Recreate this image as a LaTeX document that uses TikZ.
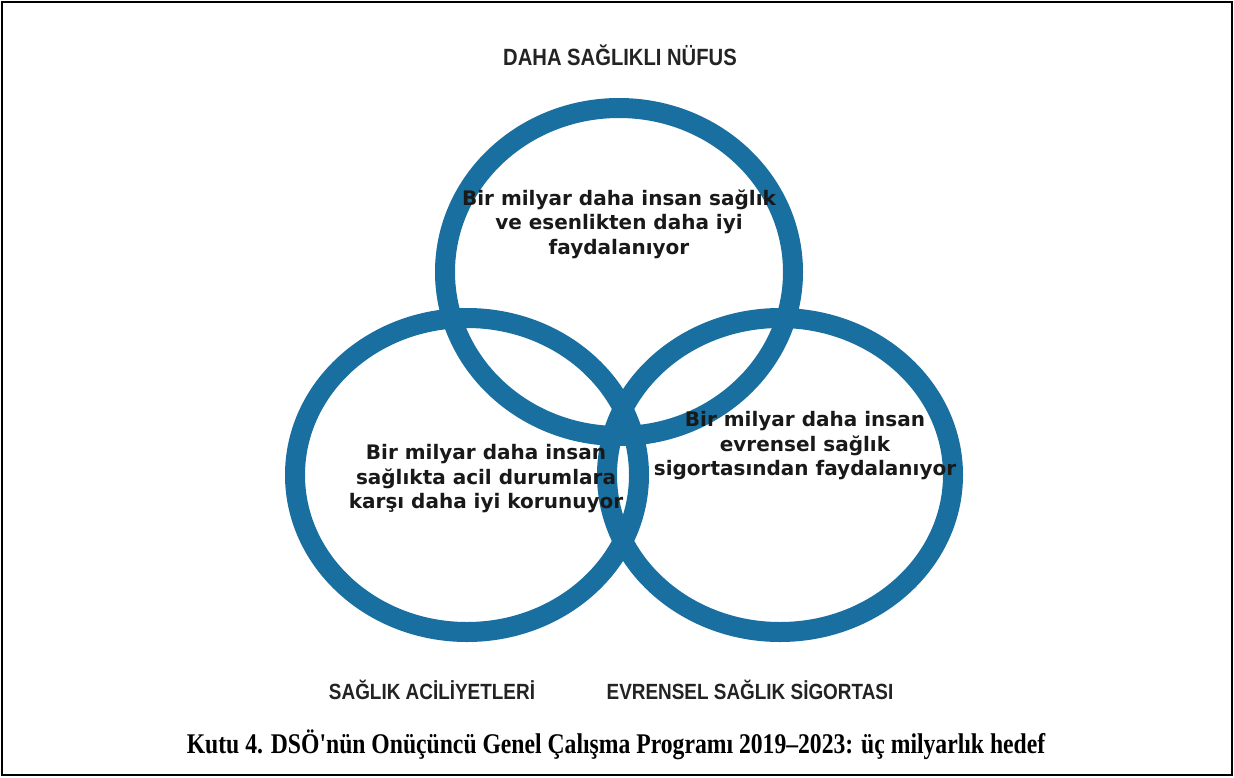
\documentclass[tikz,border=0pt]{standalone}
\usepackage{fontspec}
\setmainfont{Liberation Serif}
\newfontfamily\innerfont{DejaVu Sans}
\newfontfamily\labelfont[FakeStretch=0.86]{Liberation Sans}
\newfontfamily\capfont[FakeStretch=0.83]{Liberation Serif}
\definecolor{ringblue}{RGB}{24,111,160}
\definecolor{labelgray}{RGB}{35,35,35}
\tikzset{
  ring/.style={draw=ringblue, line width=20pt},
  innertxt/.style={align=center, inner sep=0pt, font=\innerfont\bfseries\fontsize{20}{24.5}\selectfont, text=black!90},
  ringlabel/.style={inner sep=0pt, font=\labelfont\bfseries\fontsize{22}{26}\selectfont, text=labelgray},
  captiontxt/.style={inner sep=0pt, font=\capfont\bfseries\fontsize{28.5}{32}\selectfont}
}
\begin{document}
\begin{tikzpicture}[x=1pt,y=-1pt]
\useasboundingbox (0,0) rectangle (1234,777);
\fill[white] (0,0) rectangle (1234,777);
\draw[line width=2pt] (2,2) rectangle (1232,775);
% rings
\draw[ring] (619,272) ellipse [x radius=174, y radius=164];
\draw[ring] (467,475) ellipse [x radius=172, y radius=157];
\draw[ring] (780,475) ellipse [x radius=173, y radius=157];
% texts
\node[ringlabel, font=\labelfont\bfseries\fontsize{23.5}{27}\selectfont] (lhealthy) at (620,55) {DAHA SAĞLIKLI NÜFUS};
\node[innertxt] (ttop) at (619,224) {Bir milyar daha insan sağlık\\ve esenlikten daha iyi\\faydalanıyor};
\node[innertxt] (tleft) at (486,479) {Bir milyar daha insan\\sağlıkta acil durumlara\\karşı daha iyi korunuyor};
\node[innertxt] (tright) at (805,446) {Bir milyar daha insan\\evrensel sağlık\\sigortasından faydalanıyor};
\node[ringlabel] (lemerg) at (432,690) {SAĞLIK ACİLİYETLERİ};
\node[ringlabel] (lcover) at (750,690) {EVRENSEL SAĞLIK SİGORTASI};
\node[captiontxt] (caption) at (616,745) {Kutu 4. DSÖ'nün Onüçüncü Genel Çalışma Programı 2019–2023: üç milyarlık hedef};
\end{tikzpicture}
\end{document}
